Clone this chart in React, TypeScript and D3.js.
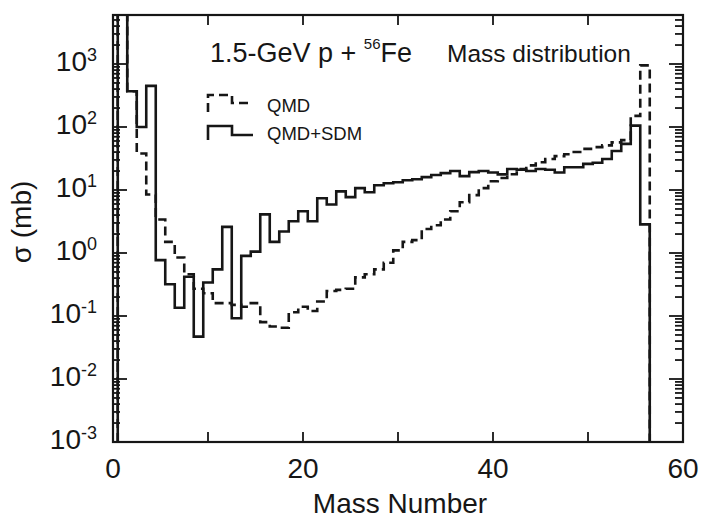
import React from "react";
import * as d3 from "d3";

// Mass numbers (bin centres, width 1)
const massNumbers = [
  1, 2, 3, 4, 5, 6, 7, 8, 9, 10, 11, 12, 13, 14, 15, 16, 17, 18, 19, 20,
  21, 22, 23, 24, 25, 26, 27, 28, 29, 30, 31, 32, 33, 34, 35, 36, 37, 38, 39, 40,
  41, 42, 43, 44, 45, 46, 47, 48, 49, 50, 51, 52, 53, 54, 55, 56,
];

// QMD (dashed) cross sections, mb
const qmdValues = [
  10000, 370, 38, 8.5, 3.4, 1.5, 0.85, 0.46, 0.27, 0.23,
  0.16, 0.16, 0.15, 0.14, 0.16, 0.08, 0.068, 0.065, 0.115, 0.14,
  0.12, 0.17, 0.25, 0.26, 0.27, 0.41, 0.46, 0.55, 0.7, 1.1,
  1.5, 1.6, 2.4, 2.75, 3.4, 4.6, 6.4, 8.3, 10.7, 13.8,
  15.5, 17.8, 21.5, 24.6, 27.6, 31, 34.5, 37, 40, 45,
  48, 51, 57, 62, 150, 950,
];

// QMD+SDM (solid) cross sections, mb
const qmdSdmValues = [
  10000, 370, 100, 450, 0.77, 0.32, 0.135, 0.42, 0.047, 0.34,
  0.55, 2.6, 0.092, 0.9, 1.05, 4.1, 1.5, 2.2, 3.2, 4.6,
  3.2, 7.4, 5.9, 9.5, 7.7, 10.7, 9.2, 11.9, 12.8, 13.3,
  14.3, 14.8, 16, 17.3, 18.5, 20, 16.6, 19.2, 20, 19,
  17.7, 21.5, 21, 20, 21.5, 21, 19, 23, 23, 26,
  27, 31, 41.5, 54, 105, 2.85,
];

const xTicks = [0, 10, 20, 30, 40, 50, 60];
const xTickLabels = [0, 20, 40, 60];
const yExponents = [-3, -2, -1, 0, 1, 2, 3];

const W = 703;
const H = 522;
const L = 113;
const R = 683;
const T = 15;
const B = 442;
const YMIN = 1e-3;
const YMAX = Math.pow(10, -3 + (B - T) / 63);

const FONT = "'Liberation Sans', Arial, Helvetica, sans-serif";
const INK = "#161616";

export default function App() {
  const x = d3.scaleLinear().domain([0, 60]).range([L, R]);
  const y = d3.scaleLog().domain([YMIN, YMAX]).range([B, T]);

  const histPoints = (vals: number[]) => {
    const pts: [number, number][] = [[massNumbers[0] - 0.5, YMIN]];
    massNumbers.forEach((a, i) => pts.push([a - 0.5, vals[i]]));
    const last = massNumbers[massNumbers.length - 1];
    pts.push([last + 0.5, vals[vals.length - 1]]);
    pts.push([last + 0.5, YMIN]);
    return pts;
  };

  const line = d3
    .line<[number, number]>()
    .x((d) => x(d[0]))
    .y((d) => y(d[1]))
    .curve(d3.curveStepAfter);

  const minorTicks: number[] = [];
  for (let e = -3; e <= 3; e++) {
    for (let m = 2; m <= 9; m++) {
      const v = m * Math.pow(10, e);
      if (v < YMAX) minorTicks.push(v);
    }
  }

  return (
    <svg
      width={W}
      height={H}
      style={{ position: "absolute", left: 0, top: 0, background: "#fff" }}
      fontFamily={FONT}
    >
      <defs>
        <clipPath id="plotClip">
          <rect x={L} y={T} width={R - L} height={B - T} />
        </clipPath>
      </defs>

      {/* histograms */}
      <g clipPath="url(#plotClip)" fill="none">
        <path
          d={line(histPoints(qmdValues)) || ""}
          stroke={INK}
          strokeWidth={2.6}
          strokeDasharray="9,5"
        />
        <path d={line(histPoints(qmdSdmValues)) || ""} stroke={INK} strokeWidth={2.6} />
      </g>

      {/* ticks */}
      <g stroke={INK} strokeWidth={1.8}>
        {xTicks.map((t) => (
          <g key={"xt" + t}>
            <line x1={x(t)} x2={x(t)} y1={B} y2={B - 10} />
            <line x1={x(t)} x2={x(t)} y1={T} y2={T + 10} />
          </g>
        ))}
        {yExponents.map((e) => (
          <g key={"ym" + e}>
            <line x1={L} x2={L + 14} y1={y(Math.pow(10, e))} y2={y(Math.pow(10, e))} />
            <line x1={R} x2={R - 14} y1={y(Math.pow(10, e))} y2={y(Math.pow(10, e))} />
          </g>
        ))}
        {minorTicks.map((v, i) => (
          <g key={"yn" + i}>
            <line x1={L} x2={L + 7} y1={y(v)} y2={y(v)} />
            <line x1={R} x2={R - 8} y1={y(v)} y2={y(v)} />
          </g>
        ))}
      </g>

      {/* frame */}
      <rect x={L} y={T} width={R - L} height={B - T} fill="none" stroke={INK} strokeWidth={2.2} />

      {/* x tick labels */}
      {xTickLabels.map((t) => (
        <text key={"xl" + t} x={x(t)} y={478} textAnchor="middle" fontSize={28} fill={INK}>
          {t}
        </text>
      ))}

      {/* y tick labels */}
      {yExponents.map((e) => (
        <text key={"yl" + e} x={97} y={y(Math.pow(10, e)) + 7} textAnchor="end" fontSize={28} fill={INK}>
          10
          <tspan dy={-10} fontSize={18}>
            {e}
          </tspan>
        </text>
      ))}

      {/* axis titles */}
      <text x={400} y={513} textAnchor="middle" fontSize={28} fill={INK}>
        Mass Number
      </text>
      <text transform="translate(31,222) rotate(-90)" textAnchor="middle" fontSize={28} fill={INK}>
        σ (mb)
      </text>

      {/* annotations */}
      <text x={210} y={62} fontSize={27} fill={INK}>
        1.5-GeV p +{" "}
        <tspan dy={-13} fontSize={15}>
          56
        </tspan>
        <tspan dy={13}>Fe</tspan>
      </text>
      <text x={447} y={62} fontSize={24.5} fill={INK}>
        Mass distribution
      </text>

      {/* legend */}
      <g fill="none" stroke={INK} strokeWidth={2.6}>
        <path d="M208,112 V95 H232 V103 H253" strokeDasharray="9,5" />
        <path d="M208,140 V126 H232 V135 H253" />
      </g>
      <text x={267} y={112} fontSize={18.5} fill={INK}>
        QMD
      </text>
      <text x={267} y={140} fontSize={18.5} fill={INK}>
        QMD+SDM
      </text>
    </svg>
  );
}
